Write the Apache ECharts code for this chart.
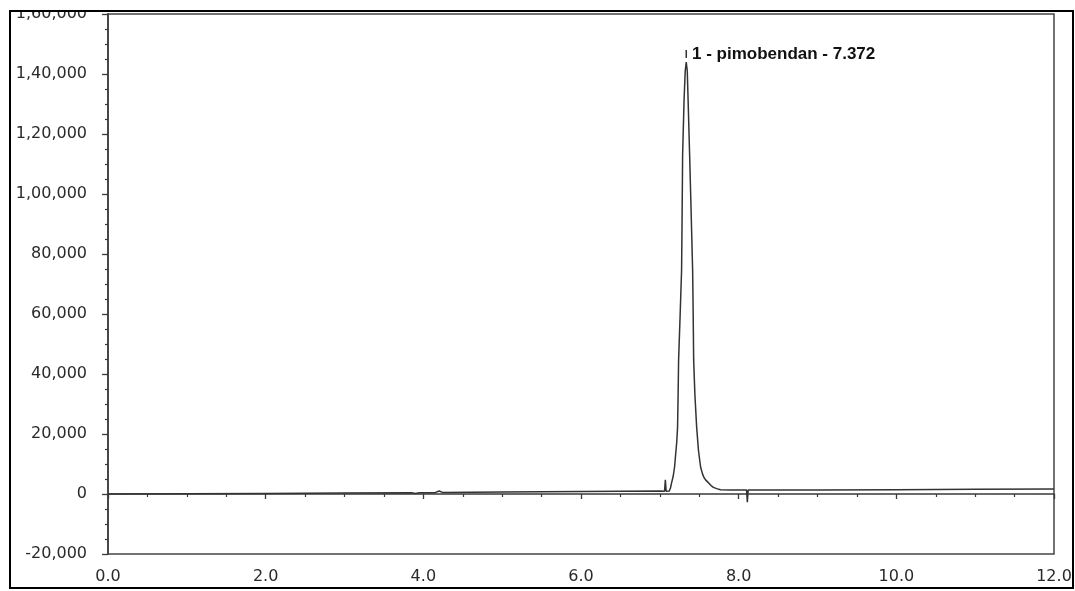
<!DOCTYPE html>
<html>
<head>
<meta charset="utf-8">
<script src="https://cdn.jsdelivr.net/npm/echarts@6/dist/echarts.min.js"></script>
<style>
html,body{margin:0;padding:0;background:#fff;}
#c{width:1075px;height:591px;}
</style>
</head>
<body>
<div id="c"></div>
<script>
// Retention time (min)
const time = [0, 1.0, 2.0, 3.0, 3.85, 3.9, 3.95, 4.15, 4.2, 4.25, 5.0, 6.0, 7.0,
  7.06, 7.07, 7.08, 7.1, 7.12, 7.135, 7.149, 7.17, 7.187, 7.2, 7.215, 7.225, 7.232, 7.238,
  7.258, 7.276, 7.283, 7.289, 7.307, 7.322, 7.335, 7.348, 7.359, 7.378, 7.398, 7.416,
  7.423, 7.429, 7.445, 7.467, 7.49, 7.517, 7.54, 7.56, 7.58, 7.619, 7.65, 7.68, 7.72, 7.77,
  7.9, 8.05, 8.1, 8.11, 8.12, 8.2, 9.0, 10.0, 11.0, 12.0];
// Detector signal
const signal = [0, 100, 200, 350, 420, 200, 430, 450, 1000, 460, 650, 850, 1000,
  950, 4700, 950, 900, 1000, 2000, 3700, 6000, 9000, 13000, 17500, 22300, 33000, 44700,
  60000, 74700, 94000, 113000, 131000, 141000, 144000, 141000, 131000, 113000, 93000, 74700,
  60000, 44700, 33000, 22300, 14500, 9000, 6800, 5500, 4700, 3700, 2800, 2200, 1800, 1400,
  1300, 1300, 1300, -2700, 1300, 1300, 1350, 1450, 1550, 1650];

const peakTime = [7.335];
const peakHeight = [144000];
const peakLabels = ['1 - pimobendan - 7.372'];

const yTicks = [-20000, 0, 20000, 40000, 60000, 80000, 100000, 120000, 140000, 160000];
const yTickLabels = ['-20,000', '0', '20,000', '40,000', '60,000', '80,000', '1,00,000', '1,20,000', '1,40,000', '1,60,000'];
const xTicks = [0, 2, 4, 6, 8, 10, 12];
const xTickLabels = ['0.0', '2.0', '4.0', '6.0', '8.0', '10.0', '12.0'];

const points = time.map((t, i) => [t, signal[i]]);

const chart = echarts.init(document.getElementById('c'), null, {renderer: 'canvas'});
const axisColor = '#3a3a3a';
chart.setOption({
  animation: false,
  backgroundColor: '#fff',
  grid: {left: 108, right: 21, top: 14, bottom: 37, show: true, borderColor: '#444', borderWidth: 1.5, backgroundColor: '#fff'},
  xAxis: {
    type: 'value', min: 0, max: 12, interval: 2, offset: 7,
    axisLine: {show: true, lineStyle: {color: axisColor, width: 1.5}},
    axisTick: {show: true, length: 5, lineStyle: {color: axisColor, width: 1.3}},
    minorTick: {show: true, splitNumber: 4, length: 3, lineStyle: {color: axisColor, width: 1.2}},
    splitLine: {show: false},
    axisLabel: {
      color: '#2a2a2a', fontFamily: 'DejaVu Sans', fontSize: 16, margin: 8,
      formatter: v => { const i = xTicks.indexOf(v); return i >= 0 ? xTickLabels[i] : ''; }
    }
  },
  yAxis: {
    type: 'value', min: -20000, max: 160000, interval: 20000, offset: 7,
    axisLine: {show: true, lineStyle: {color: axisColor, width: 1.5}},
    axisTick: {show: true, length: 6, lineStyle: {color: axisColor, width: 1.3}},
    minorTick: {show: true, splitNumber: 4, length: 3, lineStyle: {color: axisColor, width: 1.2}},
    splitLine: {show: false},
    axisLabel: {
      color: '#2a2a2a', fontFamily: 'DejaVu Sans', fontSize: 16, margin: 14,
      formatter: v => { const i = yTicks.indexOf(v); return i >= 0 ? yTickLabels[i] : ''; }
    }
  },
  series: [{
    type: 'line',
    data: points,
    showSymbol: false,
    smooth: false,
    lineStyle: {color: '#333', width: 1.5},
    markPoint: {
      symbol: 'rect',
      symbolSize: [1.5, 8],
      symbolOffset: [0, -8],
      itemStyle: {color: '#333'},
      label: {
        show: true, position: 'right', distance: 5,
        color: '#111', fontFamily: 'Liberation Sans', fontWeight: 'bold', fontSize: 17,
        formatter: p => p.name
      },
      data: peakTime.map((t, i) => ({name: peakLabels[i], coord: [t, peakHeight[i]]}))
    }
  }],
  graphic: [{
    type: 'rect', silent: true, z: 100,
    shape: {x: 0, y: 0, width: 1075, height: 11},
    style: {fill: '#fff'}
  }, {
    type: 'rect', silent: true, z: 101,
    shape: {x: 10, y: 11, width: 1063, height: 577},
    style: {fill: 'none', stroke: '#000', lineWidth: 2}
  }]
});
</script>
</body>
</html>
